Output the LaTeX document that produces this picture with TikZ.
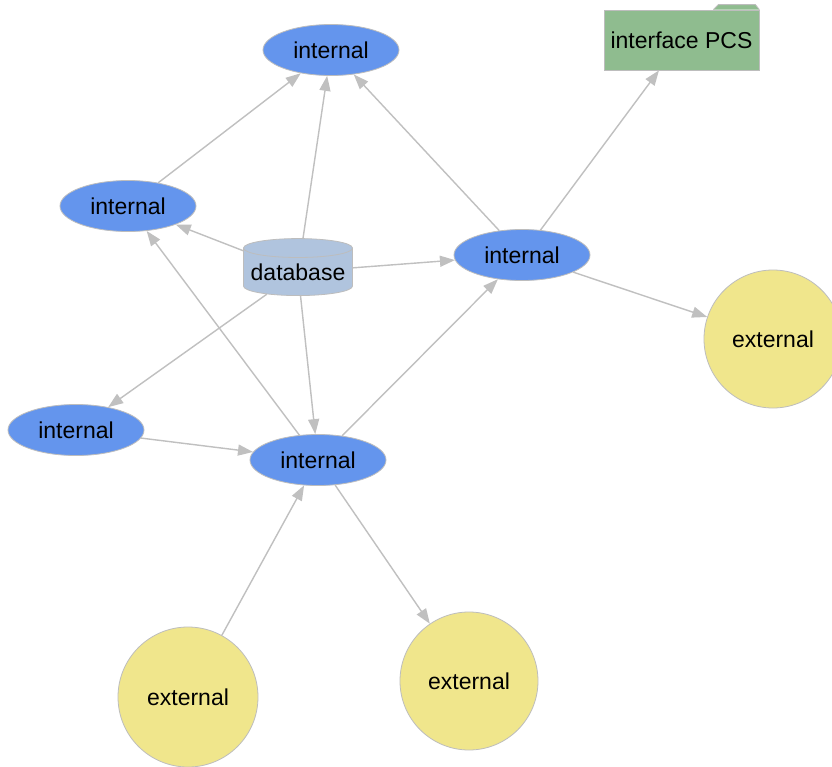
\documentclass[tikz,border=0pt]{standalone}
\usepackage{fontspec}
\setmainfont{Liberation Sans}
\usetikzlibrary{shapes.geometric,arrows.meta}
\definecolor{intblue}{HTML}{6495ED}
\definecolor{dbsteel}{HTML}{B0C4DE}
\definecolor{pcsgreen}{HTML}{8FBC8F}
\definecolor{extkhaki}{HTML}{F0E68C}
\definecolor{edgegray}{HTML}{C0C0C0}
\definecolor{rimgray}{HTML}{BDBDBD}
\tikzset{
	every node/.style={font=\fontsize{11.5pt}{13pt}\selectfont,inner sep=0pt},
	internal/.style={ellipse,draw=rimgray,fill=intblue,minimum width=68pt,minimum height=25.5pt},
	external/.style={circle,draw=rimgray,fill=extkhaki,minimum size=69pt},
	dbnode/.style={cylinder,shape border rotate=90,aspect=0.2,draw=rimgray,fill=dbsteel,minimum width=54.5pt,minimum height=28.5pt},
	pcsbox/.style={rectangle,draw=rimgray,fill=pcsgreen,minimum width=77.5pt,minimum height=30pt},
	link/.style={->,draw=edgegray,line width=0.7pt}
}
\begin{document}
	\begin{tikzpicture}[x=0.5pt,y=-0.5pt,>={Triangle[length=7.5pt,width=5.5pt]}]
		\useasboundingbox[fill=white] (0,0) rectangle (832,767);
		\path (331,50)  node[internal] (inT) {internal}
		      (128,206) node[internal] (inL) {internal}
		      (522,255) node[internal] (inR) {internal}
		      (76,430)  node[internal] (inBL) {internal}
		      (318,460) node[internal] (inC) {internal}
		      (298,272) node[dbnode] (db) {database}
		      (681.5,40) node[pcsbox] (pcs) {interface PCS}
		      (773,339) node[external] (extR) {external}
		      (188,697) node[external,minimum size=70pt] (extBL) {external}
		      (469,681) node[external] (extB) {external}
		;
		% folder tab
		\filldraw[fill=pcsgreen,draw=rimgray] ([xshift=-23pt]pcs.north east) -- ([xshift=-20.5pt,yshift=2.5pt]pcs.north east)
		  -- ([xshift=-2pt,yshift=2.5pt]pcs.north east) -- (pcs.north east);
		\foreach \x/\y in {%
			inL/inT, db/inT, inR/inT, inR/pcs,
			db/inL, db/inR, inR/extR, db/inBL, db/inC,
			inC/inL, inC/inR, inBL/inC, extBL/inC, inC/extB}{%
		\draw[link] (\x)--(\y);
		}%
	\end{tikzpicture}
\end{document}
